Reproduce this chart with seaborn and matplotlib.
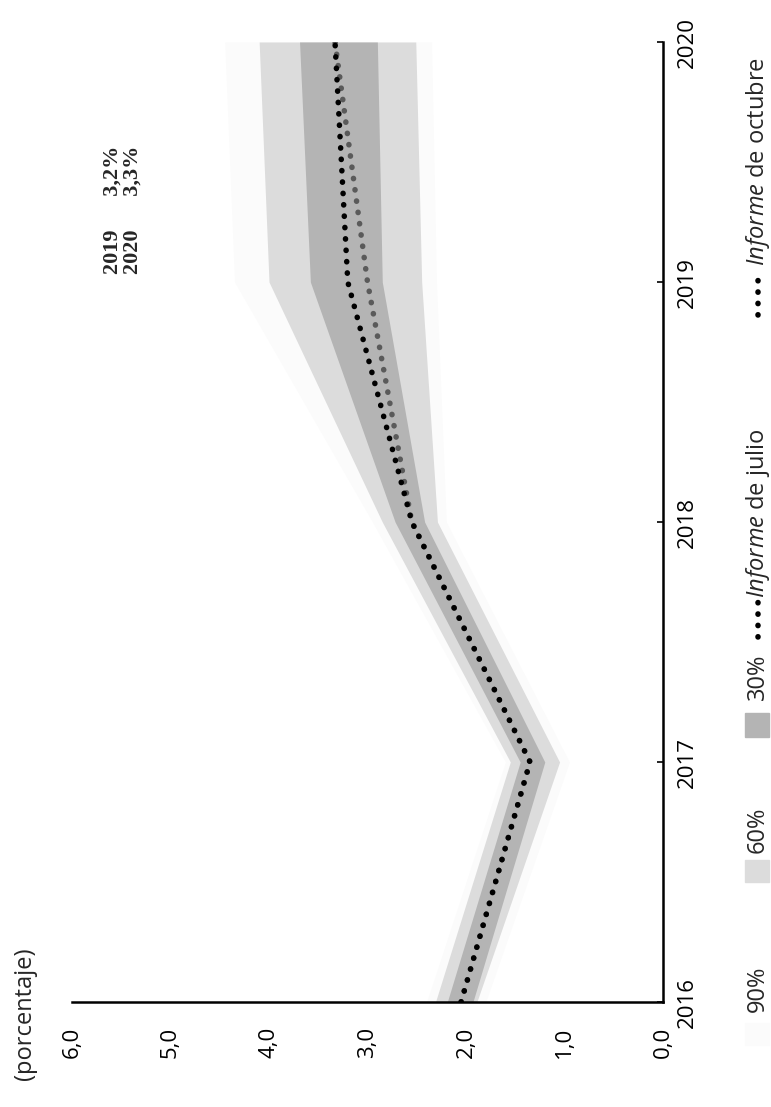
import matplotlib
matplotlib.use('Agg')
import matplotlib.pyplot as plt
from matplotlib.patches import Rectangle
from matplotlib.lines import Line2D
import seaborn as sns

# Fan chart data (values in %)
years = [2016, 2017, 2018, 2019, 2020]
informe_octubre = [2.05, 1.35, 2.55, 3.20, 3.33]
informe_julio = [2.05, 1.35, 2.55, 3.00, 3.33]
band90_low = [1.80, 0.95, 2.20, 2.30, 2.35]
band90_high = [2.40, 1.60, 2.95, 4.35, 4.45]
band60_low = [1.89, 1.05, 2.29, 2.45, 2.51]
band60_high = [2.31, 1.55, 2.85, 4.00, 4.10]
band30_low = [1.93, 1.20, 2.42, 2.85, 2.90]
band30_high = [2.19, 1.45, 2.72, 3.58, 3.69]

value_ticks = [0, 1, 2, 3, 4, 5, 6]
value_labels = ['0,0', '1,0', '2,0', '3,0', '4,0', '5,0', '6,0']
year_labels = ['2016', '2017', '2018', '2019', '2020']
note_years = ['2019', '2020']
note_values = ['3,2%', '3,3%']

sns.set_style('white')
plt.rcParams['font.family'] = ['Open Sans', 'DejaVu Sans']
plt.rcParams['mathtext.fontset'] = 'custom'
plt.rcParams['mathtext.rm'] = 'Open Sans'
plt.rcParams['mathtext.it'] = 'Open Sans:italic'

c90, c60, c30 = '#fbfbfb', '#dcdcdc', '#b4b4b4'
dots = (0, (0.05, 2.0))

W, H = 771, 1107
fig = plt.figure(figsize=(W / 100, H / 100), dpi=100)
# the whole chart is turned a quarter turn: values run right-to-left, years bottom-to-top
ax = fig.add_axes([72 / W, 1 - 1002 / H, (663 - 72) / W, (1002 - 42) / H])

ax.fill_betweenx(years, band90_low, band90_high, color=c90, lw=0)
ax.fill_betweenx(years, band60_low, band60_high, color=c60, lw=0)
ax.fill_betweenx(years, band30_low, band30_high, color=c30, lw=0)

sns.lineplot(x=informe_julio, y=years, orient='y', ax=ax, color='#5a5a5a',
             lw=4, linestyle=dots, dash_capstyle='round', estimator=None)
sns.lineplot(x=informe_octubre, y=years, orient='y', ax=ax, color='black',
             lw=4, linestyle=dots, dash_capstyle='round', estimator=None)

ax.set_xlim(6, 0)
ax.set_ylim(2016, 2020)
ax.set_xticks(value_ticks)
ax.set_xticklabels(value_labels, rotation=90, fontsize=16)
ax.set_yticks(years)
ax.yaxis.tick_right()
ax.set_yticklabels(year_labels, rotation=90, fontsize=16, va='center')
ax.tick_params(axis='x', direction='in', length=4, width=1.2, pad=18, colors='black')
ax.tick_params(axis='y', direction='in', length=4, width=1.2, pad=10, colors='black')
for side in ['top', 'left']:
    ax.spines[side].set_visible(False)
for side in ['bottom', 'right']:
    ax.spines[side].set_color('black')
    ax.spines[side].set_linewidth(1.8)
ax.set_xlabel('')
ax.set_ylabel('')

fig.text(25 / W, 1 - 1014 / H, '(porcentaje)', rotation=90, ha='center', va='center', fontsize=17)

# note with the October forecast, one text block of two lines
note = '\n'.join(f'{y}      {v}' for y, v in zip(note_years, note_values))
fig.text(123 / W, 1 - 210 / H, note, rotation=90, ha='center', va='center',
         family='Liberation Serif', fontweight='bold', fontsize=16, linespacing=1.0)

# hand-built legend, turned like the chart
lx = 758 / W
fig.text(lx, 1 - 1012 / H, '90%', rotation=90, ha='center', va='bottom', fontsize=17)
fig.add_artist(Rectangle((745 / W, 1 - 1045 / H), 24 / W, 22 / H, color=c90,
                         transform=fig.transFigure))
fig.add_artist(Rectangle((745 / W, 1 - 882 / H), 24 / W, 22 / H, color=c60,
                         transform=fig.transFigure))
fig.text(lx, 1 - 853 / H, '60%', rotation=90, ha='center', va='bottom', fontsize=17)
fig.add_artist(Rectangle((745 / W, 1 - 737 / H), 24 / W, 24 / H, color=c30,
                         transform=fig.transFigure))
fig.text(lx, 1 - 700 / H, '30%', rotation=90, ha='center', va='bottom', fontsize=17)
fig.add_artist(Line2D([lx, lx], [1 - 637 / H, 1 - 602 / H], color='black', lw=4,
                      linestyle=dots, dash_capstyle='round', transform=fig.transFigure))
fig.text(lx, 1 - 598 / H, r'$\mathit{Informe}$ de julio', rotation=90, ha='center',
         va='bottom', fontsize=17)
fig.add_artist(Line2D([lx, lx], [1 - 315 / H, 1 - 270 / H], color='black', lw=4,
                      linestyle=dots, dash_capstyle='round', transform=fig.transFigure))
fig.text(lx, 1 - 266 / H, r'$\mathit{Informe}$ de octubre', rotation=90, ha='center',
         va='bottom', fontsize=17)

fig.savefig('out.png', dpi=100, facecolor='white')
